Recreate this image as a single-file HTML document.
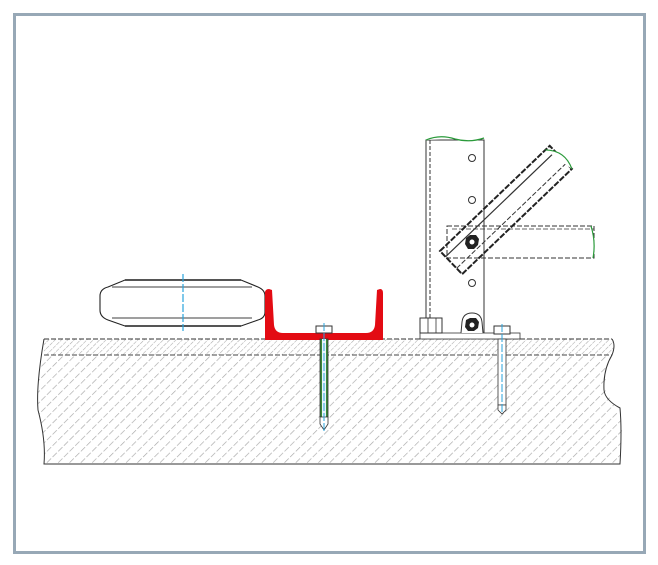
<!DOCTYPE html>
<html><head><meta charset="utf-8"><style>html,body{margin:0;padding:0;background:#fff}svg{display:block}</style></head>
<body>
<svg width="658" height="565" viewBox="0 0 658 565" xmlns="http://www.w3.org/2000/svg">
<defs>
<pattern id="h1" patternUnits="userSpaceOnUse" width="8" height="8" patternTransform="rotate(45)">
<line x1="0" y1="0" x2="0" y2="8" stroke="#a6a6a6" stroke-width="1.3" stroke-dasharray="6,2.5"/>
</pattern>
<pattern id="h2" patternUnits="userSpaceOnUse" width="4.5" height="5" patternTransform="rotate(45)">
<line x1="0" y1="0" x2="0" y2="5" stroke="#aaaaaa" stroke-width="1.1" stroke-dasharray="4,1"/>
</pattern>
<clipPath id="g"><path d="M44 339 L612 339 Q616 345 612 355 Q603 370 607 395 Q620 408 622 430 L620 464 L44 464 Q46 440 38 410 Q36 385 44 355 Z"/></clipPath>
</defs>
<rect x="14.5" y="14.5" width="630" height="538" fill="#fff" stroke="#97a8b6" stroke-width="3"/>
<g clip-path="url(#g)">
<rect x="30" y="339" width="600" height="16" fill="url(#h2)"/>
<rect x="30" y="355" width="600" height="110" fill="url(#h1)"/>
</g>
<path d="M44 339 Q36 385 38 410 Q46 440 44 464 L620 464 Q622 430 620 408 Q605 400 604 390 Q603 370 612 355 Q616 345 612 339" fill="none" stroke="#333" stroke-width="1"/>
<line x1="44" y1="339" x2="612" y2="339" stroke="#333" stroke-width="1" stroke-dasharray="5,2"/>
<line x1="44" y1="355" x2="612" y2="355" stroke="#444" stroke-width="1" stroke-dasharray="5,2"/>
<path d="M125 280 L241 280 L258 287 Q265 290 265 296 L265 312 Q265 318 258 320 L241 326 L125 326 L108 320 Q100 317 100 310 L100 296 Q100 289 108 287 Z" fill="#fff" stroke="#222" stroke-width="1.1"/>
<line x1="125" y1="280" x2="241" y2="280" stroke="#555" stroke-width="2"/>
<line x1="125" y1="326" x2="241" y2="326" stroke="#555" stroke-width="2"/>
<line x1="112" y1="287" x2="252" y2="287" stroke="#666" stroke-width="1.2"/>
<line x1="112" y1="318" x2="252" y2="318" stroke="#666" stroke-width="1.2"/>
<line x1="183" y1="274" x2="183" y2="331" stroke="#2aa3dc" stroke-width="1.2" stroke-dasharray="8,2"/>
<path d="M265 340 L265 293 Q265 289 269 289 L272 290 L274 325 Q275 333 283 333 L366 333 Q374 333 375 325 L377 290 L380 289 Q383 289 383 293 L383 340 Z" fill="#e30b13"/>
<rect x="320" y="339" width="8" height="78" fill="#3a8a3a" stroke="#333" stroke-width="0.8"/>
<rect x="322" y="339" width="4" height="78" fill="#e8f4fa"/>
<path d="M320 417 L328 417 L328 424 L324 430 L320 424 Z" fill="#fff" stroke="#333" stroke-width="0.8"/>
<rect x="316" y="326" width="16" height="7" fill="#fff" stroke="#333" stroke-width="1"/>
<line x1="324" y1="323" x2="324" y2="432" stroke="#2aa3dc" stroke-width="1" stroke-dasharray="8,2"/>
<rect x="426" y="140" width="58" height="195" fill="#fff" stroke="#333" stroke-width="1"/>
<line x1="430" y1="140" x2="430" y2="335" stroke="#333" stroke-width="1" stroke-dasharray="4,2"/>
<path d="M426 140 Q440 134 455 139 Q470 143 484 138" fill="#fff" stroke="#2a9a3a" stroke-width="1.2"/>
<circle cx="472" cy="158" r="3.5" fill="#fff" stroke="#333"/>
<circle cx="472" cy="200" r="3.5" fill="#fff" stroke="#333"/>
<circle cx="472" cy="283" r="3.5" fill="#fff" stroke="#333"/>
<rect x="447" y="226" width="147" height="32" fill="none" stroke="#333" stroke-width="1" stroke-dasharray="5,2"/>
<line x1="452" y1="229" x2="594" y2="229" stroke="#333" stroke-width="0.8" stroke-dasharray="5,2"/>
<path d="M591 226 Q596 242 593 258" fill="none" stroke="#2a9a3a" stroke-width="1.2"/>
<g transform="translate(440,251) rotate(-43.8)">
<rect x="0" y="0" width="152" height="32" fill="none" stroke="#222" stroke-width="2" stroke-dasharray="6,1.5"/>
<line x1="0" y1="8" x2="152" y2="8" stroke="#333" stroke-width="1.2"/>
<line x1="0" y1="24" x2="152" y2="24" stroke="#333" stroke-width="1" stroke-dasharray="5,2"/>
<path d="M146 0 Q160 14 152 32" fill="#fff" stroke="#2a9a3a" stroke-width="1.2"/>
</g>
<polygon points="466,238 470,235 476,235 479,239 478,245 474,249 468,249 465,244" fill="#222"/>
<circle cx="472" cy="242" r="2.5" fill="#fff"/>
<rect x="420" y="333" width="100" height="6" fill="#fff" stroke="#333" stroke-width="0.8"/>
<rect x="420" y="318" width="22" height="15" fill="#fff" stroke="#333" stroke-width="1"/>
<line x1="428" y1="318" x2="428" y2="333" stroke="#333" stroke-width="0.8"/>
<line x1="436" y1="318" x2="436" y2="333" stroke="#333" stroke-width="0.8"/>
<path d="M461 333 L462 322 Q463 313 472 313 Q481 313 482 322 L483 333" fill="#fff" stroke="#333" stroke-width="1"/>
<polygon points="466,320 470,318 476,318 479,322 478,328 474,331 468,331 465,327" fill="#222"/>
<circle cx="472" cy="325" r="2.5" fill="#fff"/>
<rect x="498" y="339" width="8" height="66" fill="#fff" stroke="#333" stroke-width="0.8"/>
<path d="M498 405 L506 405 L506 410 L502 414 L498 410 Z" fill="#fff" stroke="#333" stroke-width="0.8"/>
<rect x="494" y="326" width="16" height="8" fill="#fff" stroke="#333" stroke-width="1"/>
<line x1="502" y1="324" x2="502" y2="412" stroke="#2aa3dc" stroke-width="1" stroke-dasharray="8,2"/>
</svg>
</body></html>
